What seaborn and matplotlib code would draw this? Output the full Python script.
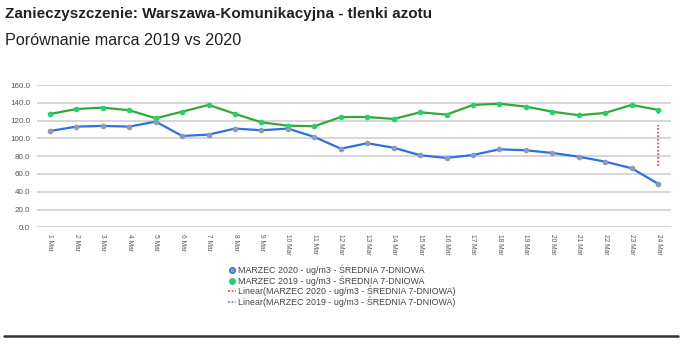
import matplotlib
matplotlib.use("Agg")
import matplotlib.pyplot as plt
import seaborn as sns
import pandas as pd
from matplotlib.lines import Line2D

sns.set_theme(style="white")
plt.rcParams['font.family'] = ['Liberation Sans', 'DejaVu Sans']

days = [f"{d} Mar" for d in range(1, 25)]
marzec_2020 = [108.3, 113.2, 114.0, 113.2, 118.8, 102.7, 104.2, 111.0, 109.1, 111.0,
               101.6, 88.4, 94.5, 89.5, 81.0, 78.0, 81.3, 87.7, 86.6, 83.6,
               79.4, 73.8, 66.4, 49.0]
marzec_2019 = [127.4, 133.0, 134.6, 131.6, 122.6, 130.0, 137.6, 127.6, 118.0, 114.3,
               113.6, 124.0, 124.0, 121.8, 129.3, 126.7, 137.6, 139.0, 135.7, 130.0,
               126.0, 128.6, 137.6, 132.0]
trend_2020 = [68.5, 115.0]
trend_2019 = [127.0, 131.0]
yticks = [0, 20, 40, 60, 80, 100, 120, 140, 160]

lab20 = "MARZEC 2020 - ug/m3 - ŚREDNIA 7-DNIOWA"
lab19 = "MARZEC 2019 - ug/m3 - ŚREDNIA 7-DNIOWA"
labt20 = "Linear(MARZEC 2020 - ug/m3 - ŚREDNIA 7-DNIOWA)"
labt19 = "Linear(MARZEC 2019 - ug/m3 - ŚREDNIA 7-DNIOWA)"

df = pd.DataFrame({"x": range(len(days)), "y20": marzec_2020, "y19": marzec_2019})

W, H = 681, 351
fig = plt.figure(figsize=(W / 100, H / 100), dpi=100)
ax = fig.add_axes([37 / W, 1 - 227.3 / H, (671 - 37) / W, (227.3 - 85) / H])

c_green_line = "#34a834"
c_green_mk = "#1fd36a"
c_blue_line = "#2d6fe6"
c_blue_mk = "#8e9bb3"
c_red = "#e2506a"
c_trend19 = "#7a86c8"

sns.lineplot(data=df, x="x", y="y19", ax=ax, color=c_green_line, linewidth=1.6,
             marker="o", markersize=3.3, markerfacecolor=c_green_mk,
             markeredgecolor=c_green_mk, clip_on=False, zorder=4)
sns.lineplot(data=df, x="x", y="y20", ax=ax, color=c_blue_line, linewidth=1.6,
             marker="o", markersize=3.3, markerfacecolor=c_blue_mk,
             markeredgecolor=c_blue_mk, clip_on=False, zorder=4)
last = len(days) - 1
ax.plot([last, last], trend_2020, color=c_red, linestyle=(0, (1, 1)), linewidth=1.3, zorder=3)
ax.plot([last, last], trend_2019, color=c_trend19, linestyle=(0, (1, 1)), linewidth=1.3, zorder=3)

ax.set_xlim(-0.49, 23.49)
ax.set_ylim(0, 160)
ax.set_yticks(yticks)
ax.set_yticklabels([f"{v:.1f}" for v in yticks], fontsize=5.8, color="#555555")
ax.set_xticks(range(len(days)))
ax.set_xticklabels(days, rotation=-90, fontsize=4.8, color="#555555")
ax.tick_params(axis="y", length=0, pad=5)
ax.tick_params(axis="x", length=0, pad=5)
ax.set_xlabel("")
ax.set_ylabel("")
ax.grid(axis="y", color="#cccccc", linewidth=1.1)
ax.grid(axis="x", visible=False)
for s in ax.spines.values():
    s.set_visible(False)

fig.text(5 / W, 1 - 7 / H, "Zanieczyszczenie: Warszawa-Komunikacyjna - tlenki azotu",
         fontsize=11, fontweight="bold", color="#222222", va="top", ha="left")
fig.text(5 / W, 1 - 33 / H, "Porównanie marca 2019 vs 2020",
         fontsize=11.6, color="#222222", va="top", ha="left")

handles = [
    Line2D([], [], color=c_blue_mk, marker="o", markersize=4, markerfacecolor=c_blue_mk,
           linestyle="None", markeredgecolor=c_blue_line, label=lab20),
    Line2D([], [], color=c_green_mk, marker="o", markersize=4, markerfacecolor=c_green_mk,
           linestyle="None", label=lab19),
    Line2D([], [], color=c_red, linestyle=(0, (1, 1)), linewidth=1.3, label=labt20),
    Line2D([], [], color=c_trend19, linestyle=(0, (1, 1)), linewidth=1.3, label=labt19),
]
fig.legend(handles=handles, loc="upper left", bbox_to_anchor=(224 / W, 1 - 260.5 / H),
           frameon=False, fontsize=6.4, handlelength=0.9, handletextpad=0.2,
           labelspacing=0.0, borderpad=0, labelcolor="#444444")

fig.add_artist(Line2D([4 / W, 678 / W], [1 - 336 / H, 1 - 336 / H],
                      color="#333333", linewidth=1.8, transform=fig.transFigure))

fig.savefig("out.png", dpi=100, facecolor="white")
